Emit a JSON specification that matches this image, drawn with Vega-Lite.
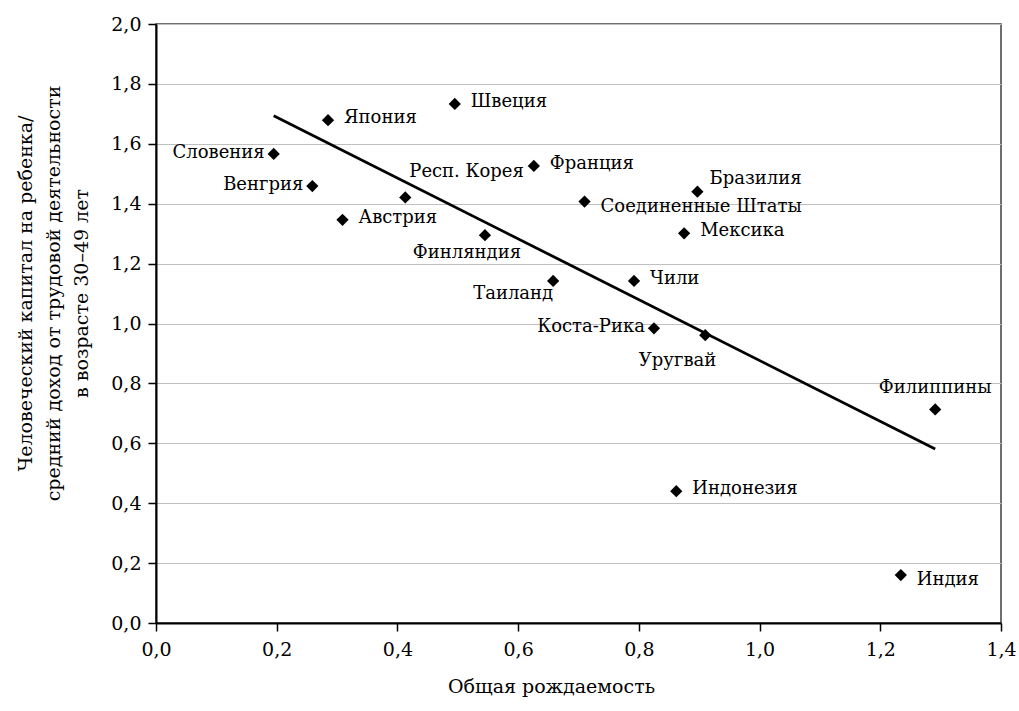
{
  "$schema": "https://vega.github.io/schema/vega-lite/v6.json",
  "width": 845,
  "height": 599,
  "autosize": {"type": "none"},
  "padding": {"left": 156, "top": 24, "right": 18, "bottom": 88},
  "background": "white",
  "config": {
    "view": {"stroke": "#404040", "strokeWidth": 1.5},
    "font": "DejaVu Serif",
    "text": {"font": "DejaVu Serif"},
    "axis": {"labelFont": "DejaVu Serif", "titleFont": "DejaVu Serif"}
  },
  "datasets": {
    "pts": [
      {"name": "Словения", "x": 0.195, "y": 1.566, "pos": "l"},
      {"name": "Япония", "x": 0.285, "y": 1.679, "pos": "r"},
      {"name": "Венгрия", "x": 0.259, "y": 1.459, "pos": "l"},
      {"name": "Австрия", "x": 0.309, "y": 1.346, "pos": "r"},
      {"name": "Респ. Корея", "x": 0.413, "y": 1.421, "pos": "kor"},
      {"name": "Швеция", "x": 0.495, "y": 1.733, "pos": "r"},
      {"name": "Франция", "x": 0.626, "y": 1.526, "pos": "r"},
      {"name": "Финляндия", "x": 0.545, "y": 1.295, "pos": "fin"},
      {"name": "Соединенные Штаты", "x": 0.710, "y": 1.407, "pos": "rd"},
      {"name": "Бразилия", "x": 0.897, "y": 1.440, "pos": "braz"},
      {"name": "Мексика", "x": 0.875, "y": 1.301, "pos": "r"},
      {"name": "Таиланд", "x": 0.658, "y": 1.142, "pos": "thai"},
      {"name": "Чили", "x": 0.792, "y": 1.142, "pos": "r"},
      {"name": "Коста-Рика", "x": 0.825, "y": 0.984, "pos": "l"},
      {"name": "Уругвай", "x": 0.910, "y": 0.961, "pos": "uru"},
      {"name": "Филиппины", "x": 1.291, "y": 0.713, "pos": "phil"},
      {"name": "Индонезия", "x": 0.862, "y": 0.440, "pos": "r"},
      {"name": "Индия", "x": 1.234, "y": 0.160, "pos": "rd"}
    ],
    "trend": [
      {"x": 0.195, "y": 1.694},
      {"x": 1.291, "y": 0.581}
    ]
  },
  "encoding": {
    "x": {
      "field": "x", "type": "quantitative",
      "scale": {"domain": [0, 1.4], "nice": false, "zero": false},
      "axis": {
        "values": [0, 0.2, 0.4, 0.6, 0.8, 1.0, 1.2, 1.4],
        "labelExpr": "replace(format(datum.value, '.1f'), '.', ',')",
        "grid": false,
        "domainColor": "black", "domainWidth": 2,
        "tickColor": "black", "tickSize": 8, "tickWidth": 1.5,
        "labelFontSize": 19, "labelPadding": 9, "labelColor": "black",
        "labelFlush": false, "labelOverlap": false,
        "title": "Общая рождаемость",
        "titleFontSize": 19, "titleFontWeight": "normal", "titleColor": "black",
        "titleX": 395, "titleY": 69, "titleBaseline": "alphabetic", "titleAlign": "center"
      }
    },
    "y": {
      "field": "y", "type": "quantitative",
      "scale": {"domain": [0, 2], "nice": false, "zero": false},
      "axis": {
        "values": [0, 0.2, 0.4, 0.6, 0.8, 1.0, 1.2, 1.4, 1.6, 1.8, 2.0],
        "labelExpr": "replace(format(datum.value, '.1f'), '.', ',')",
        "grid": true, "gridColor": "#c0c0c0", "gridWidth": 1,
        "domainColor": "black", "domainWidth": 2,
        "tickColor": "black", "tickSize": 8, "tickWidth": 1.5,
        "labelFontSize": 19, "labelPadding": 7, "labelColor": "black",
        "labelFlush": false, "labelOverlap": false,
        "title": ["Человеческий капитал на ребенка/", "средний доход от трудовой деятельности", "в возрасте 30–49 лет"],
        "titleFontSize": 19, "titleFontWeight": "normal", "titleColor": "black",
        "titleX": -131, "titleY": 269, "titleAngle": -90,
        "titleBaseline": "middle", "titleAlign": "center", "titleLineHeight": 28
      }
    }
  },
  "layer": [
    {
      "data": {"name": "trend"},
      "mark": {"type": "line", "color": "black", "strokeWidth": 2.8}
    },
    {
      "data": {"name": "pts"},
      "mark": {"type": "point", "shape": "diamond", "filled": true, "color": "black", "size": 150, "opacity": 1}
    },
    {
      "data": {"name": "pts"},
      "transform": [{"filter": "datum.pos === 'r'"}],
      "mark": {"type": "text", "align": "left", "baseline": "middle", "dx": 16, "dy": -2, "fontSize": 18, "color": "black"},
      "encoding": {"text": {"field": "name"}}
    },
    {
      "data": {"name": "pts"},
      "transform": [{"filter": "datum.pos === 'rd'"}],
      "mark": {"type": "text", "align": "left", "baseline": "middle", "dx": 16, "dy": 5, "fontSize": 18, "color": "black"},
      "encoding": {"text": {"field": "name"}}
    },
    {
      "data": {"name": "pts"},
      "transform": [{"filter": "datum.pos === 'l'"}],
      "mark": {"type": "text", "align": "right", "baseline": "middle", "dx": -9, "dy": -1, "fontSize": 18, "color": "black"},
      "encoding": {"text": {"field": "name"}}
    },
    {
      "data": {"name": "pts"},
      "transform": [{"filter": "datum.pos === 'kor'"}],
      "mark": {"type": "text", "align": "left", "baseline": "middle", "dx": 4, "dy": -25, "fontSize": 18, "color": "black"},
      "encoding": {"text": {"field": "name"}}
    },
    {
      "data": {"name": "pts"},
      "transform": [{"filter": "datum.pos === 'fin'"}],
      "mark": {"type": "text", "align": "center", "baseline": "middle", "dx": -18, "dy": 18, "fontSize": 18, "color": "black"},
      "encoding": {"text": {"field": "name"}}
    },
    {
      "data": {"name": "pts"},
      "transform": [{"filter": "datum.pos === 'thai'"}],
      "mark": {"type": "text", "align": "right", "baseline": "middle", "dx": 0, "dy": 13, "fontSize": 18, "color": "black"},
      "encoding": {"text": {"field": "name"}}
    },
    {
      "data": {"name": "pts"},
      "transform": [{"filter": "datum.pos === 'uru'"}],
      "mark": {"type": "text", "align": "right", "baseline": "middle", "dx": 11, "dy": 26, "fontSize": 18, "color": "black"},
      "encoding": {"text": {"field": "name"}}
    },
    {
      "data": {"name": "pts"},
      "transform": [{"filter": "datum.pos === 'phil'"}],
      "mark": {"type": "text", "align": "center", "baseline": "middle", "dx": 0, "dy": -21, "fontSize": 18, "color": "black"},
      "encoding": {"text": {"field": "name"}}
    },
    {
      "data": {"name": "pts"},
      "transform": [{"filter": "datum.pos === 'braz'"}],
      "mark": {"type": "text", "align": "left", "baseline": "middle", "dx": 12, "dy": -13, "fontSize": 18, "color": "black"},
      "encoding": {"text": {"field": "name"}}
    }
  ]
}
